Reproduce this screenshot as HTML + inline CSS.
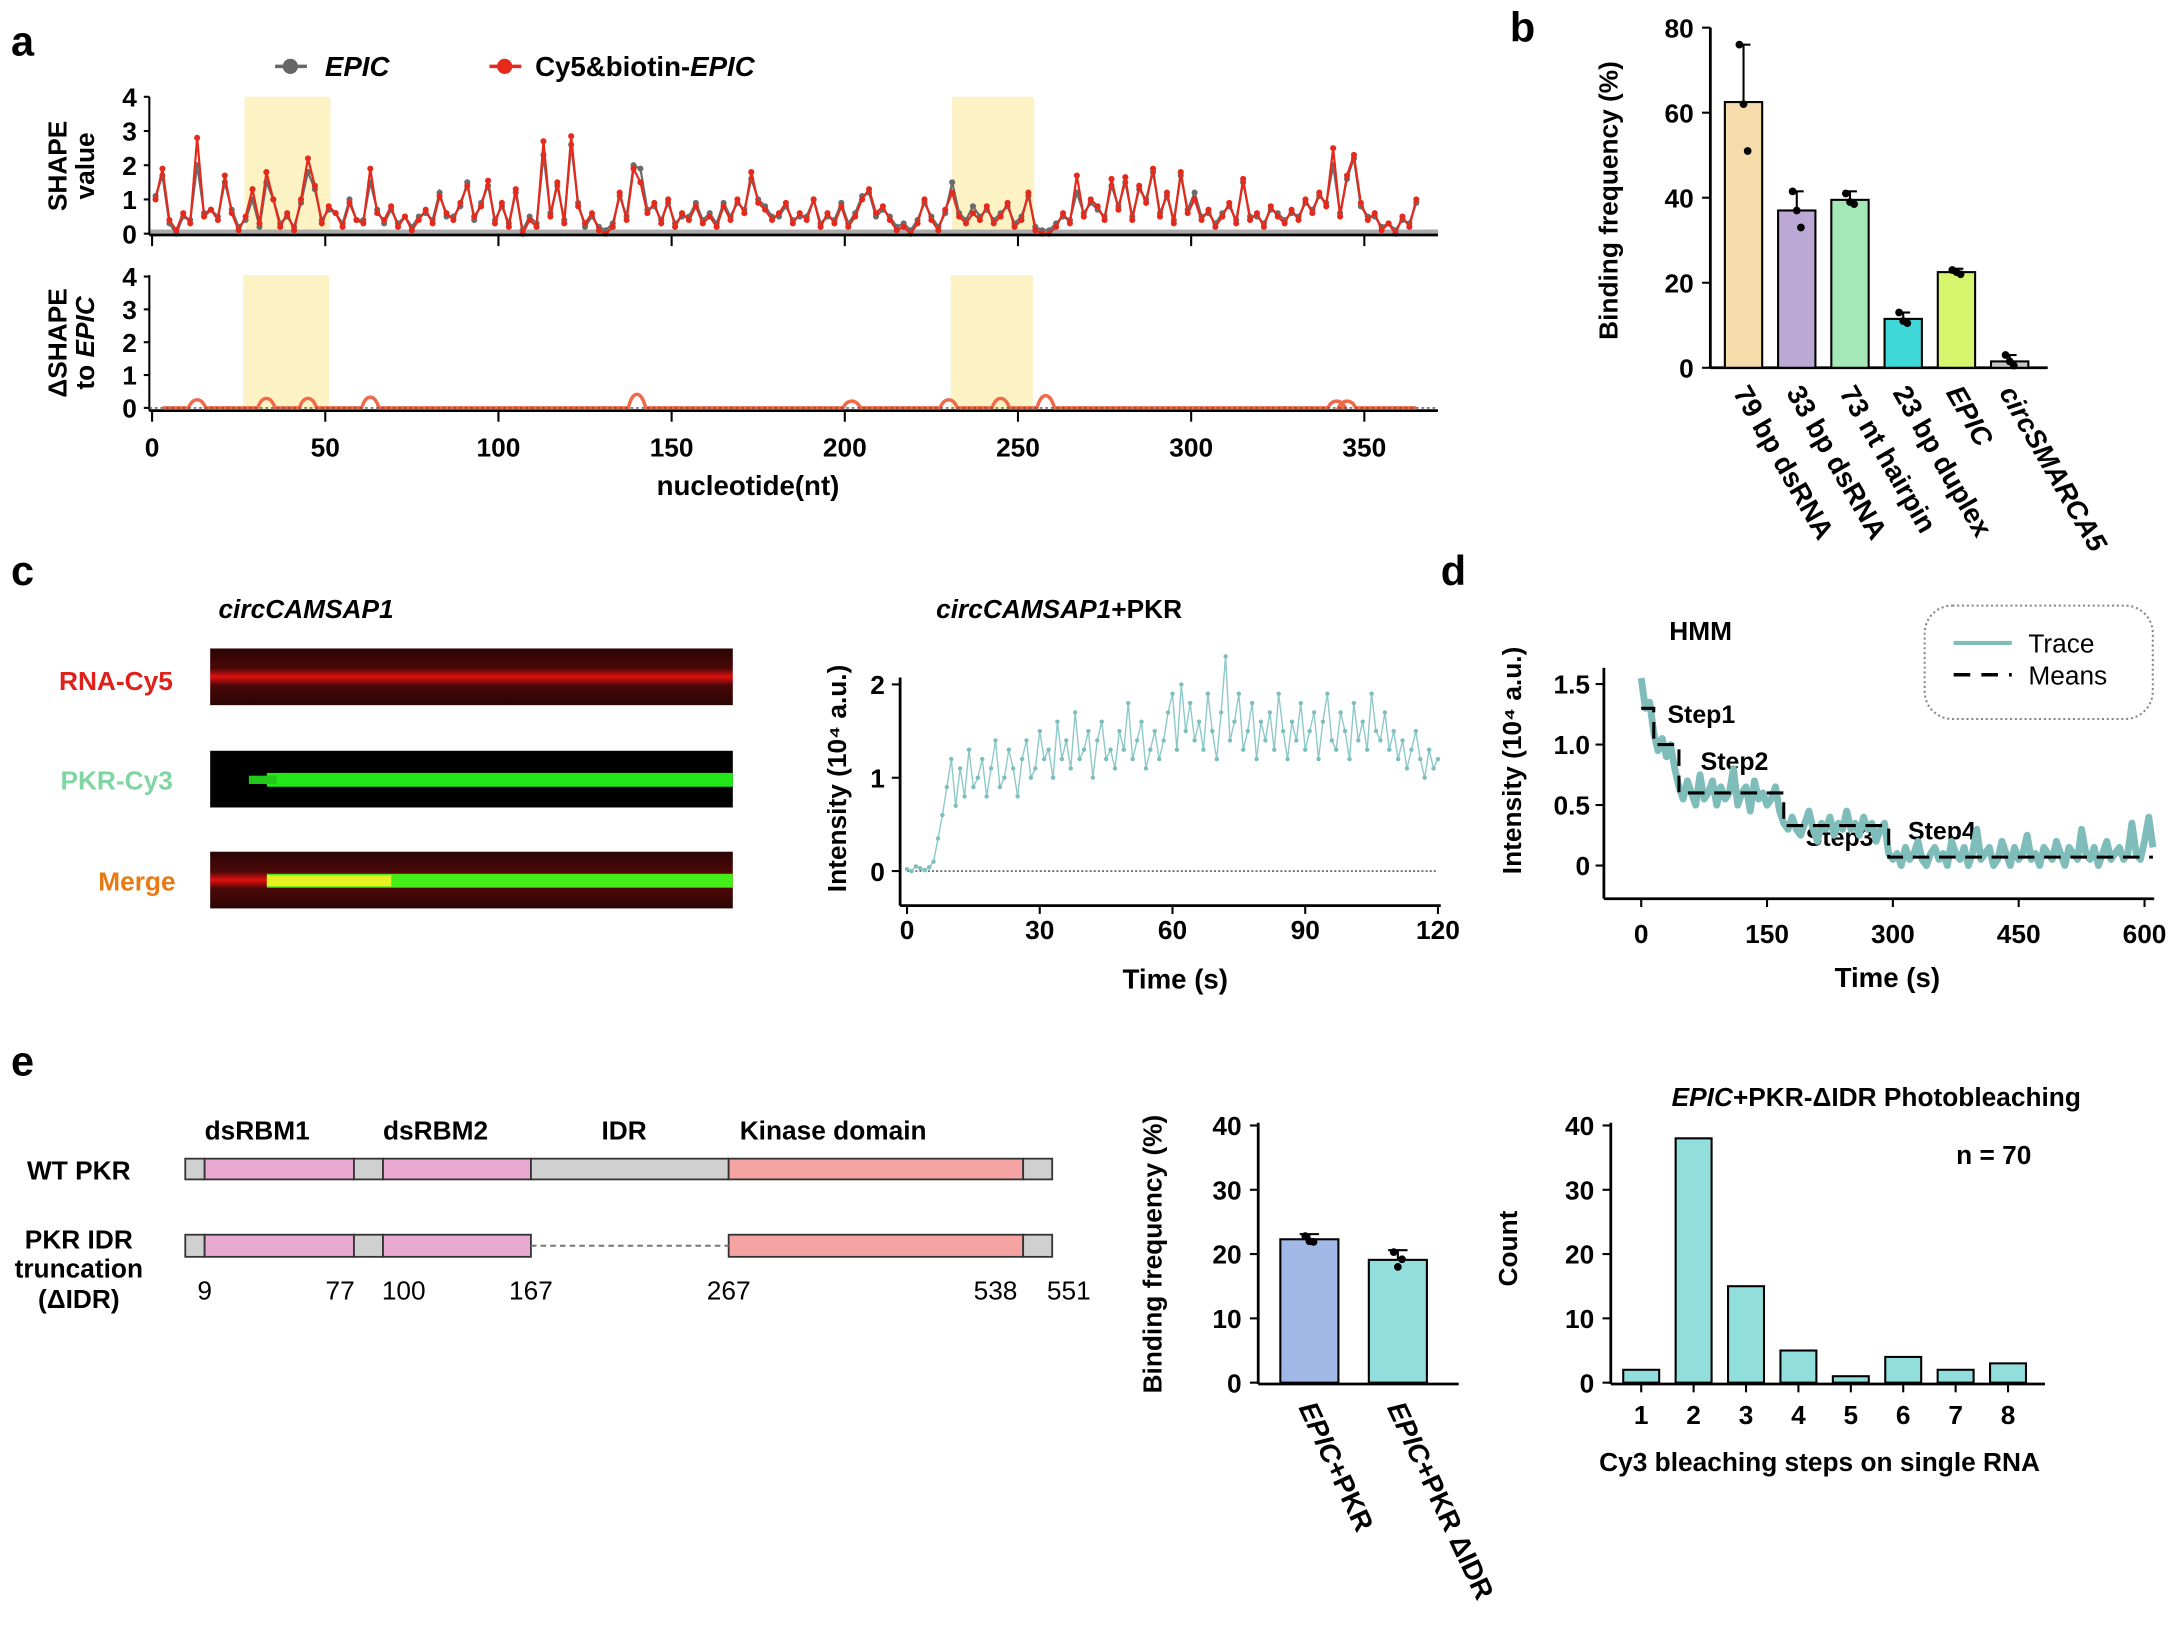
<!DOCTYPE html>
<html><head><meta charset="utf-8">
<style>
html,body{margin:0;padding:0;background:#fff;}
svg{display:block;font-family:"Liberation Sans",Arial,sans-serif;font-weight:bold;}
</style></head>
<body>
<svg id="fig" xmlns="http://www.w3.org/2000/svg" width="2168" height="1626" viewBox="0 0 1568 1176" preserveAspectRatio="none">
<defs>
<linearGradient id="redband" x1="0" y1="0" x2="0" y2="1">
<stop offset="0" stop-color="#2a0504"/><stop offset="0.35" stop-color="#4a0807"/><stop offset="0.5" stop-color="#e01010"/><stop offset="0.65" stop-color="#4a0807"/><stop offset="1" stop-color="#2a0504"/>
</linearGradient>
</defs>
<!-- panel letters -->
<text x="8" y="40" font-size="30">a</text>
<text x="1092" y="30" font-size="30">b</text>
<text x="8" y="423" font-size="30">c</text>
<text x="1042" y="423" font-size="30">d</text>
<text x="8" y="778" font-size="30">e</text>

<!-- panel a static -->
<g>
<line x1="199" y1="48" x2="222" y2="48" stroke="#666" stroke-width="2.5"/><circle cx="210" cy="48" r="5.5" fill="#666"/>
<text x="235" y="55" font-size="20" font-style="italic">EPIC</text>
<line x1="354" y1="48" x2="377" y2="48" stroke="#e52a1c" stroke-width="2.5"/><circle cx="365" cy="48" r="5.5" fill="#e52a1c"/>
<text x="387" y="55" font-size="20">Cy5&amp;biotin-<tspan font-style="italic">EPIC</tspan></text>
</g>
<text transform="translate(48,120) rotate(-90)" text-anchor="middle" font-size="19">SHAPE</text>
<text transform="translate(68,120) rotate(-90)" text-anchor="middle" font-size="19">value</text>
<text transform="translate(48,248) rotate(-90)" text-anchor="middle" font-size="19">ΔSHAPE</text>
<text transform="translate(68,248) rotate(-90)" text-anchor="middle" font-size="19">to <tspan font-style="italic">EPIC</tspan></text>
<text x="541" y="358" text-anchor="middle" font-size="20">nucleotide(nt)</text>

<!-- panel b static -->
<text transform="translate(1170,145) rotate(-90)" text-anchor="middle" font-size="19">Binding frequency (%)</text>

<!-- panel c static -->
<text x="158" y="447" font-size="19" font-style="italic">circCAMSAP1</text>
<text x="125" y="499" text-anchor="end" font-size="19" fill="#e0201a">RNA-Cy5</text>
<text x="125" y="571" text-anchor="end" font-size="19" fill="#7fd6a2">PKR-Cy3</text>
<text x="127" y="644" text-anchor="end" font-size="19" fill="#e87a14">Merge</text>
<text x="766" y="447" text-anchor="middle" font-size="19"><tspan font-style="italic">circCAMSAP1</tspan>+PKR</text>
<text transform="translate(612,563) rotate(-90)" text-anchor="middle" font-size="19">Intensity (10⁴ a.u.)</text>
<text x="850" y="715" text-anchor="middle" font-size="20">Time (s)</text>

<!-- panel d static -->
<text x="1230" y="463" text-anchor="middle" font-size="19">HMM</text>
<rect x="1392" y="438" width="165" height="82" rx="20" fill="none" stroke="#888" stroke-width="1.5" stroke-dasharray="1.5,2"/>
<line x1="1413" y1="465" x2="1455" y2="465" stroke="#7fbdbb" stroke-width="3"/>
<text x="1467" y="472" font-size="19" font-weight="normal">Trace</text>
<line x1="1413" y1="488" x2="1455" y2="488" stroke="#000" stroke-width="2.5" stroke-dasharray="12,8"/>
<text x="1467" y="495" font-size="19" font-weight="normal">Means</text>
<text transform="translate(1100,550) rotate(-90)" text-anchor="middle" font-size="19">Intensity (10⁴ a.u.)</text>
<text x="1365" y="714" text-anchor="middle" font-size="20">Time (s)</text>
<text x="1206" y="523" font-size="18">Step1</text>
<text x="1230" y="557" font-size="18">Step2</text>
<text x="1306" y="612" font-size="18">Step3</text>
<text x="1380" y="607" font-size="18">Step4</text>

<!-- panel e static -->
<text x="57" y="853" font-size="19" text-anchor="middle">WT PKR</text>
<text x="57" y="903" font-size="19" text-anchor="middle">PKR IDR</text>
<text x="57" y="924" font-size="19" text-anchor="middle">truncation</text>
<text x="57" y="946" font-size="19" text-anchor="middle">(ΔIDR)</text>
<text x="148" y="824" font-size="19">dsRBM1</text>
<text x="277" y="824" font-size="19">dsRBM2</text>
<text x="435" y="824" font-size="19">IDR</text>
<text x="535" y="824" font-size="19">Kinase domain</text>
<text transform="translate(840,907) rotate(-90)" text-anchor="middle" font-size="19">Binding frequency (%)</text>
<text x="1357" y="800" text-anchor="middle" font-size="19"><tspan font-style="italic">EPIC</tspan>+PKR-ΔIDR Photobleaching</text>
<text x="1442" y="842" text-anchor="middle" font-size="19">n = 70</text>
<text transform="translate(1097,903) rotate(-90)" text-anchor="middle" font-size="19">Count</text>
<text x="1316" y="1064" text-anchor="middle" font-size="19">Cy3 bleaching steps on single RNA</text>
</svg>

<script>
// ===== Panel a data =====
const shapeStep = 2;
const shapeCy5 = [1.0,1.9,0.4,0.1,0.6,0.3,2.8,0.5,0.7,0.4,
1.7,0.6,0.1,0.5,1.3,0.3,1.8,1.0,0.2,0.6,
0.1,1.0,2.2,1.4,0.3,0.8,0.6,0.2,0.9,0.4,
0.3,1.9,0.6,0.4,0.8,0.2,0.5,0.1,0.4,0.7,
0.3,1.1,0.6,0.4,0.9,1.4,0.5,0.8,1.55,0.3,
0.9,0.2,1.3,0.0,0.4,0.2,2.7,0.5,1.5,0.3,
2.85,0.8,0.3,0.6,0.1,0.0,0.2,1.2,0.4,1.9,
1.5,0.6,0.9,0.3,1.0,0.2,0.6,0.4,0.8,0.3,
0.5,0.2,0.8,0.4,1.0,0.6,1.8,0.9,0.7,0.4,
0.6,0.9,0.3,0.6,0.4,1.0,0.2,0.6,0.3,0.8,
0.2,0.5,1.0,1.3,0.6,0.8,0.4,0.1,0.2,0.0,
0.3,1.0,0.4,0.1,0.7,1.2,0.5,0.3,0.6,0.4,
0.8,0.3,0.5,0.9,0.2,0.4,1.2,0.1,0.0,0.0,
0.2,0.6,0.3,1.7,0.5,1.0,0.8,0.4,1.6,0.7,
1.65,0.4,1.4,0.9,1.9,0.5,1.2,0.3,1.8,0.6,
1.0,0.4,0.7,0.2,0.5,0.9,0.3,1.6,0.4,0.6,
0.2,0.8,0.5,0.3,0.7,0.4,1.0,0.6,1.2,0.8,
2.5,0.5,1.7,2.3,0.9,0.4,0.6,0.1,0.3,0.0,
0.5,0.2,1.0];
const shapeEpic = [1.1,1.7,0.3,0.0,0.5,0.4,2.0,0.6,0.7,0.5,
1.5,0.7,0.2,0.4,1.0,0.2,1.5,1.0,0.3,0.5,
0.2,0.9,1.8,1.3,0.4,0.7,0.6,0.3,1.0,0.4,
0.4,1.5,0.7,0.3,0.7,0.3,0.5,0.2,0.5,0.6,
0.4,1.2,0.5,0.5,0.8,1.5,0.4,0.9,1.4,0.4,
0.8,0.3,1.2,0.1,0.5,0.3,2.3,0.6,1.4,0.4,
2.6,0.9,0.2,0.5,0.2,0.1,0.3,1.1,0.5,2.0,
1.9,0.7,0.8,0.4,0.9,0.3,0.5,0.5,0.9,0.4,
0.6,0.3,0.9,0.5,0.9,0.7,1.6,1.0,0.8,0.5,
0.5,0.8,0.4,0.5,0.5,1.0,0.3,0.5,0.4,0.9,
0.3,0.6,1.1,1.2,0.5,0.7,0.5,0.2,0.3,0.1,
0.4,0.9,0.5,0.2,0.6,1.5,0.6,0.4,0.8,0.5,
0.7,0.4,0.6,0.8,0.3,0.5,1.1,0.2,0.1,0.1,
0.3,0.5,0.4,1.2,0.6,0.9,0.7,0.5,1.4,0.8,
1.5,0.5,1.3,1.0,1.8,0.6,1.1,0.4,1.7,0.7,
1.2,0.5,0.6,0.3,0.6,0.8,0.4,1.5,0.5,0.5,
0.3,0.7,0.6,0.4,0.6,0.5,0.9,0.7,1.1,0.9,
2.0,0.6,1.6,2.2,0.8,0.5,0.5,0.2,0.3,0.1,
0.4,0.3,0.9];
const highlightStart = [26.7, 231];
const highlightEnd = [51.5, 254.7];
const deltaCenters = [13, 33, 45, 63, 140, 202, 230, 245, 258, 342, 345];
const deltaHeights = [0.3, 0.35, 0.35, 0.4, 0.5, 0.25, 0.3, 0.35, 0.45, 0.25, 0.25];
const ntTicks = [0, 50, 100, 150, 200, 250, 300, 350];
const shapeTicks = [0, 1, 2, 3, 4];

// ===== Panel b data =====
const bCategories = ["79 bp dsRNA", "33 bp dsRNA", "73 nt hairpin", "23 bp duplex", "EPIC", "circSMARCA5"];
const bMeans = [62.5, 37, 39.5, 11.5, 22.5, 1.5];
const bErrors = [13.5, 4.5, 2, 1.5, 0.8, 1.5];
const bPoints = [[76, 62, 51], [41.5, 37, 33], [41, 39, 38.5], [13, 11, 10.5], [23, 22.5, 22], [3, 1.5, 0.5]];
const bColors = ["#f5dcaa", "#bba8d4", "#a4e8b8", "#3fd8d8", "#d7f56c", "#c8c8c8"];
const bTicks = [0, 20, 40, 60, 80];

// ===== Panel c data (1 s sampling) =====
const cIntensity = [0.02,0.0,0.05,0.03,0.01,0.04,0.1,0.35,0.6,0.9,1.2,0.7,1.1,0.8,1.3,0.9,1.0,1.2,0.8,1.1,
1.4,0.9,1.0,1.3,1.1,0.8,1.2,1.4,1.0,1.1,1.5,1.2,1.3,1.0,1.6,1.2,1.4,1.1,1.7,1.2,
1.3,1.5,1.0,1.4,1.6,1.2,1.3,1.1,1.5,1.3,1.8,1.2,1.4,1.6,1.1,1.3,1.5,1.2,1.4,1.7,
1.9,1.3,2.0,1.5,1.8,1.4,1.6,1.3,1.9,1.5,1.2,1.7,2.3,1.4,1.6,1.9,1.3,1.5,1.8,1.2,
1.6,1.4,1.7,1.3,1.9,1.5,1.2,1.6,1.4,1.8,1.3,1.5,1.7,1.2,1.6,1.9,1.4,1.3,1.7,1.5,
1.2,1.8,1.4,1.6,1.3,1.9,1.5,1.4,1.7,1.3,1.5,1.2,1.4,1.1,1.3,1.5,1.2,1.0,1.3,1.1,1.2];
const cTimeTicks = [0, 30, 60, 90, 120];
const cIntTicks = [0, 1, 2];

// ===== Panel d data (5 s sampling) =====
const dIntensity = [1.55,1.3,1.35,1.1,0.95,1.05,0.9,1.0,0.8,0.65,0.55,0.7,0.6,0.5,0.75,0.55,0.6,0.7,0.5,0.65,
0.55,0.6,0.8,0.5,0.6,0.65,0.45,0.7,0.55,0.6,0.5,0.55,0.65,0.45,0.35,0.3,0.4,0.3,0.25,0.35,
0.45,0.3,0.2,0.35,0.3,0.4,0.25,0.35,0.3,0.45,0.3,0.35,0.25,0.4,0.3,0.35,0.2,0.3,0.35,0.1,
0.05,0.1,0.0,0.15,0.05,0.1,0.2,0.05,0.0,0.1,0.15,0.05,0.1,0.0,0.2,0.1,0.05,0.15,0.0,0.1,
0.3,0.05,0.1,0.15,0.0,0.05,0.2,0.1,0.0,0.15,0.05,0.1,0.25,0.05,0.1,0.0,0.15,0.1,0.05,0.2,
0.1,0.0,0.15,0.1,0.05,0.3,0.1,0.05,0.15,0.0,0.1,0.2,0.05,0.1,0.15,0.05,0.1,0.35,0.1,0.05,0.2,0.4,0.15];
const dStepStart = [0, 15, 45, 170, 295];
const dStepEnd = [15, 45, 170, 295, 610];
const dStepMean = [1.3, 1.0, 0.6, 0.33, 0.07];
const dTimeTicks = [0, 150, 300, 450, 600];
const dIntTicks = [0, 0.5, 1.0, 1.5];
const dIntTickLabels = ["0", "0.5", "1.0", "1.5"];

// ===== Panel e data =====
const domainStart = [1, 9, 77, 100, 167, 267, 538];
const domainEnd = [9, 77, 100, 167, 267, 538, 551];
const domainColor = ["#d0d0d0", "#e8a9d3", "#d0d0d0", "#e8a9d3", "#d0d0d0", "#f5a3a3", "#d0d0d0"];
const residueLabels = [9, 77, 100, 167, 267, 538, 551];
const eCategories = ["EPIC+PKR", "EPIC+PKR ΔIDR"];
const eMeans = [22.3, 19.1];
const eErrors = [0.8, 1.5];
const ePoints = [[22.8, 22.0, 21.9], [20.3, 18.0, 19.2]];
const eColors = ["#a2b8e6", "#92dedc"];
const eTicks = [0, 10, 20, 30, 40];
const histSteps = [1, 2, 3, 4, 5, 6, 7, 8];
const histCounts = [2, 38, 15, 5, 1, 4, 2, 3];
const histTicks = [0, 10, 20, 30, 40];

// ===== drawing =====
const NS = 'http://www.w3.org/2000/svg';
const svg = document.getElementById('fig');
function mk(tag, attrs, name, parent) {
  const e = document.createElementNS(NS, tag);
  for (const k in attrs) e.setAttribute(k, attrs[k]);
  
  
  (parent || svg).appendChild(e);
  return e;
}
function tx(x, y, s, size, anchor, name, extra) {
  const a = Object.assign({x: x, y: y, 'font-size': size, 'text-anchor': anchor}, extra || {});
  const e = mk('text', a, name);
  e.textContent = s;
  return e;
}
function line(x1, y1, x2, y2, stroke, w, name, extra) {
  return mk('line', Object.assign({x1: x1, y1: y1, x2: x2, y2: y2, stroke: stroke, 'stroke-width': w}, extra || {}), name);
}

// --- Panel a ---
const ax = nt => 110 + nt * 2.505;
const ayTop = v => 169 - v * 24.75;
const ayBot = v => 295 - v * 23.75;
for (let i = 0; i < highlightStart.length; i++) {
  mk('rect', {x: ax(highlightStart[i]), y: 70, width: ax(highlightEnd[i]) - ax(highlightStart[i]), height: 100, fill: '#fbeeb0', opacity: 0.75}, 'highlight-top-' + i);
  mk('rect', {x: ax(highlightStart[i]) - 1, y: 199, width: ax(highlightEnd[i]) - ax(highlightStart[i]), height: 98, fill: '#fbeeb0', opacity: 0.75}, 'highlight-bottom-' + i);
}
mk('rect', {x: 108, y: 166, width: 932, height: 4, fill: '#aaa'}, 'zero-band-top');
function shapeSeries(vals, col, name) {
  let d = '';
  vals.forEach((v, i) => { d += (i ? 'L' : 'M') + ax(1 + i * shapeStep).toFixed(1) + ',' + ayTop(v).toFixed(1); });
  mk('path', {d: d, fill: 'none', stroke: col, 'stroke-width': 1.6}, name + '-line');
  vals.forEach((v, i) => {
    mk('circle', {cx: ax(1 + i * shapeStep), cy: ayTop(v), r: 2.2, fill: col}, name + '-point');
  });
}
shapeSeries(shapeEpic, '#6b6b6b', 'epic-series');
shapeSeries(shapeCy5, '#e52a1c', 'cy5-series');
line(108, 170, 1040, 170, '#000', 2, 'x-axis-line-top');
line(108, 297, 1040, 297, '#000', 2, 'x-axis-line-bottom');
line(108, 70, 108, 170, '#000', 1.5, 'y-axis-line-top');
line(108, 199, 108, 297, '#000', 1.5, 'y-axis-line-bottom');
shapeTicks.forEach(t => {
  line(104, ayTop(t), 108, ayTop(t), '#000', 1.5, 'y-tick-top');
  tx(99, ayTop(t) + 7, String(t), 19, 'end', 'y-tick-label-top');
  line(104, ayBot(t), 108, ayBot(t), '#000', 1.5, 'y-tick-bottom');
  tx(99, ayBot(t) + 7, String(t), 19, 'end', 'y-tick-label-bottom');
});
ntTicks.forEach(t => {
  line(ax(t), 170, ax(t), 178, '#000', 1.5, 'x-tick-top');
  line(ax(t), 297, ax(t), 305, '#000', 1.5, 'x-tick-bottom');
  tx(ax(t), 330, String(t), 19, 'middle', 'x-tick-label');
});
let dd = 'M' + ax(3) + ',' + ayBot(0);
const bumpW = 2.5;
deltaCenters.forEach((c, i) => {
  const h = deltaHeights[i];
  dd += 'L' + ax(c - bumpW).toFixed(1) + ',' + ayBot(0);
  dd += 'C' + ax(c - bumpW * 0.5).toFixed(1) + ',' + ayBot(h * 1.1).toFixed(1) + ' ' + ax(c + bumpW * 0.5).toFixed(1) + ',' + ayBot(h * 1.1).toFixed(1) + ' ' + ax(c + bumpW).toFixed(1) + ',' + ayBot(0);
});
dd += 'L' + ax(365) + ',' + ayBot(0);
mk('path', {d: dd, fill: 'none', stroke: '#f06a4a', 'stroke-width': 2.5}, 'delta-shape-line');
line(108, 295, 1040, 295, '#555', 1, 'delta-zero-line', {'stroke-dasharray': '2,2'});

// --- Panel b ---
const by = v => 266 - v * 3.075;
const bx = i => 1261 + i * 38.5;
const bw = 27;
line(1237, 266, 1481, 266, '#000', 2, 'x-axis-line-b');
line(1237, 20, 1237, 266, '#000', 2, 'y-axis-line-b');
bTicks.forEach(t => {
  line(1231, by(t), 1237, by(t), '#000', 1.5, 'y-tick-b');
  tx(1225, by(t) + 7, String(t), 19, 'end', 'y-tick-label-b');
});
bCategories.forEach((c, i) => {
  mk('rect', {x: bx(i) - bw / 2, y: by(bMeans[i]), width: bw, height: by(0) - by(bMeans[i]), fill: bColors[i], stroke: '#000', 'stroke-width': 1.5}, 'bar-' + i);
  line(bx(i), by(bMeans[i]), bx(i), by(bMeans[i] + bErrors[i]), '#000', 1.5, 'error-bar-b');
  line(bx(i) - 5, by(bMeans[i] + bErrors[i]), bx(i) + 5, by(bMeans[i] + bErrors[i]), '#000', 1.5, 'error-cap-b');
  bPoints[i].forEach((p, j) => mk('circle', {cx: bx(i) + (j - 1) * 3, cy: by(p), r: 2.8, fill: '#000'}, 'point-b'));
  const t = tx(0, 0, '', 20, 'start', 'x-label-b', {transform: 'translate(' + (bx(i) - 8) + ',284) rotate(60)'});
  if (c === 'EPIC' || c === 'circSMARCA5') t.setAttribute('font-style', 'italic');
  t.textContent = c;
});

// --- Panel c kymographs ---
mk('rect', {x: 152, y: 469, width: 378, height: 41, fill: 'url(#redband)'}, 'kymo-rna-cy5');
mk('rect', {x: 152, y: 543, width: 378, height: 41, fill: '#000'}, 'kymo-pkr-cy3');
mk('rect', {x: 193, y: 559, width: 337, height: 10, fill: '#22e81a'}, 'kymo-pkr-band');
mk('rect', {x: 180, y: 561, width: 20, height: 6, fill: '#22c81a'}, 'kymo-pkr-onset');
mk('rect', {x: 152, y: 616, width: 378, height: 41, fill: 'url(#redband)'}, 'kymo-merge');
mk('rect', {x: 193, y: 632, width: 337, height: 10, fill: '#44ee1a'}, 'kymo-merge-band');
mk('rect', {x: 193, y: 633, width: 90, height: 8, fill: '#e8f020'}, 'kymo-merge-yellow');

// --- Panel c trace ---
const cx = t => 656 + t * 3.2;
const cy = v => 630 - v * 67.5;
line(651, 655, 1042, 655, '#000', 2, 'x-axis-line-c');
line(651, 490, 651, 655, '#000', 2, 'y-axis-line-c');
line(656, 630, 1040, 630, '#444', 1, 'zero-line-c', {'stroke-dasharray': '1.5,1.5'});
cIntTicks.forEach(t => {
  line(645, cy(t), 651, cy(t), '#000', 1.5, 'y-tick-c');
  tx(640, cy(t) + 7, String(t), 19, 'end', 'y-tick-label-c');
});
cTimeTicks.forEach(t => {
  line(cx(t), 655, cx(t), 661, '#000', 1.5, 'x-tick-c');
  tx(cx(t), 679, String(t), 19, 'middle', 'x-tick-label-c');
});
let cd = '';
cIntensity.forEach((v, i) => { cd += (i ? 'L' : 'M') + cx(i).toFixed(1) + ',' + cy(v).toFixed(1); });
mk('path', {d: cd, fill: 'none', stroke: '#8cc9c8', 'stroke-width': 1}, 'trace-c');
cIntensity.forEach((v, i) => mk('circle', {cx: cx(i), cy: cy(v), r: 1.6, fill: '#7dbfbe'}, 'trace-c-point'));

// --- Panel d ---
const dx = t => 1187 + t * 0.6067;
const dy = v => 626 - v * 87.5;
line(1160, 650, 1558, 650, '#000', 2, 'x-axis-line-d');
line(1160, 483, 1160, 650, '#000', 2, 'y-axis-line-d');
dIntTicks.forEach((t, i) => {
  line(1154, dy(t), 1160, dy(t), '#000', 1.5, 'y-tick-d');
  tx(1150, dy(t) + 7, dIntTickLabels[i], 19, 'end', 'y-tick-label-d');
});
dTimeTicks.forEach(t => {
  line(dx(t), 650, dx(t), 656, '#000', 1.5, 'x-tick-d');
  tx(dx(t), 682, String(t), 19, 'middle', 'x-tick-label-d');
});
let td = '';
dIntensity.forEach((v, i) => { td += (i ? 'L' : 'M') + dx(i * 5).toFixed(1) + ',' + dy(v).toFixed(1); });
mk('path', {d: td, fill: 'none', stroke: '#7fbdbb', 'stroke-width': 5, 'stroke-linejoin': 'round'}, 'trace-d');
let md = '';
dStepMean.forEach((m, i) => {
  md += (i ? 'L' : 'M') + dx(dStepStart[i]).toFixed(1) + ',' + dy(m).toFixed(1) + 'L' + dx(dStepEnd[i]).toFixed(1) + ',' + dy(m).toFixed(1);
});
mk('path', {d: md, fill: 'none', stroke: '#000', 'stroke-width': 2.2, 'stroke-dasharray': '12,7'}, 'means-d');

// --- Panel e domains ---
const rx = r => {
  const rs = [1, 9, 77, 100, 167, 267, 538, 551], ps = [134, 148, 256, 277, 384, 527, 740, 761];
  for (let k = 0; k < rs.length - 1; k++) if (r <= rs[k + 1]) return ps[k] + (r - rs[k]) / (rs[k + 1] - rs[k]) * (ps[k + 1] - ps[k]);
  return 761;
};
domainStart.forEach((s, i) => {
  mk('rect', {x: rx(s), y: 838, width: rx(domainEnd[i]) - rx(s), height: 15, fill: domainColor[i], stroke: '#333', 'stroke-width': 1.3}, 'wt-domain-' + i);
  if (i !== 4) mk('rect', {x: rx(s), y: 893, width: rx(domainEnd[i]) - rx(s), height: 16, fill: domainColor[i], stroke: '#333', 'stroke-width': 1.3}, 'didr-domain-' + i);
});
line(rx(167), 901, rx(267), 901, '#777', 1.5, 'deleted-idr-line', {'stroke-dasharray': '4,3'});
residueLabels.forEach(r => {
  const off = r === 551 ? 12 : (r === 538 ? -20 : (r === 77 ? -10 : (r === 100 ? 15 : 0)));
  tx(rx(r) + off, 940, String(r), 19, 'middle', 'residue-label', {'font-weight': 'normal'});
});

// --- Panel e bar chart ---
const ey = v => 1000 - v * 4.65;
const ex = i => 947 + i * 64;
line(910, 1001, 1055, 1001, '#000', 2, 'x-axis-line-e');
line(910, 812, 910, 1001, '#000', 2, 'y-axis-line-e');
eTicks.forEach(t => {
  line(904, ey(t), 910, ey(t), '#000', 1.5, 'y-tick-e');
  tx(898, ey(t) + 7, String(t), 19, 'end', 'y-tick-label-e');
});
eCategories.forEach((c, i) => {
  mk('rect', {x: ex(i) - 21, y: ey(eMeans[i]), width: 42, height: ey(0) - ey(eMeans[i]), fill: eColors[i], stroke: '#000', 'stroke-width': 1.5}, 'bar-e-' + i);
  line(ex(i), ey(eMeans[i]), ex(i), ey(eMeans[i] + eErrors[i]), '#000', 1.5, 'error-bar-e');
  line(ex(i) - 7, ey(eMeans[i] + eErrors[i]), ex(i) + 7, ey(eMeans[i] + eErrors[i]), '#000', 1.5, 'error-cap-e');
  ePoints[i].forEach((p, j) => mk('circle', {cx: ex(i) + (j - 1) * 3, cy: ey(p), r: 2.8, fill: '#000'}, 'point-e'));
  const t = tx(0, 0, '', 20, 'start', 'x-label-e', {transform: 'translate(' + (ex(i) - 8) + ',1018) rotate(65)'});
  const it = document.createElementNS(NS, 'tspan');
  it.setAttribute('font-style', 'italic');
  it.textContent = 'EPIC';
  t.appendChild(it);
  t.appendChild(document.createTextNode(c.slice(4)));
});

// --- Panel e histogram ---
const hy = v => 1000 - v * 4.65;
const hx = s => 1187 + (s - 1) * 37.9;
line(1165, 1001, 1479, 1001, '#000', 2, 'x-axis-line-hist');
line(1165, 812, 1165, 1001, '#000', 2, 'y-axis-line-hist');
histTicks.forEach(t => {
  line(1159, hy(t), 1165, hy(t), '#000', 1.5, 'y-tick-hist');
  tx(1153, hy(t) + 7, String(t), 19, 'end', 'y-tick-label-hist');
});
histSteps.forEach((s, i) => {
  mk('rect', {x: hx(s) - 13, y: hy(histCounts[i]), width: 26, height: hy(0) - hy(histCounts[i]), fill: '#92dedc', stroke: '#000', 'stroke-width': 1.5}, 'hist-bar-' + s);
  line(hx(s), 1001, hx(s), 1007, '#000', 1.5, 'x-tick-hist');
  tx(hx(s), 1030, String(s), 19, 'middle', 'x-tick-label-hist');
});
</script>
</body></html>
